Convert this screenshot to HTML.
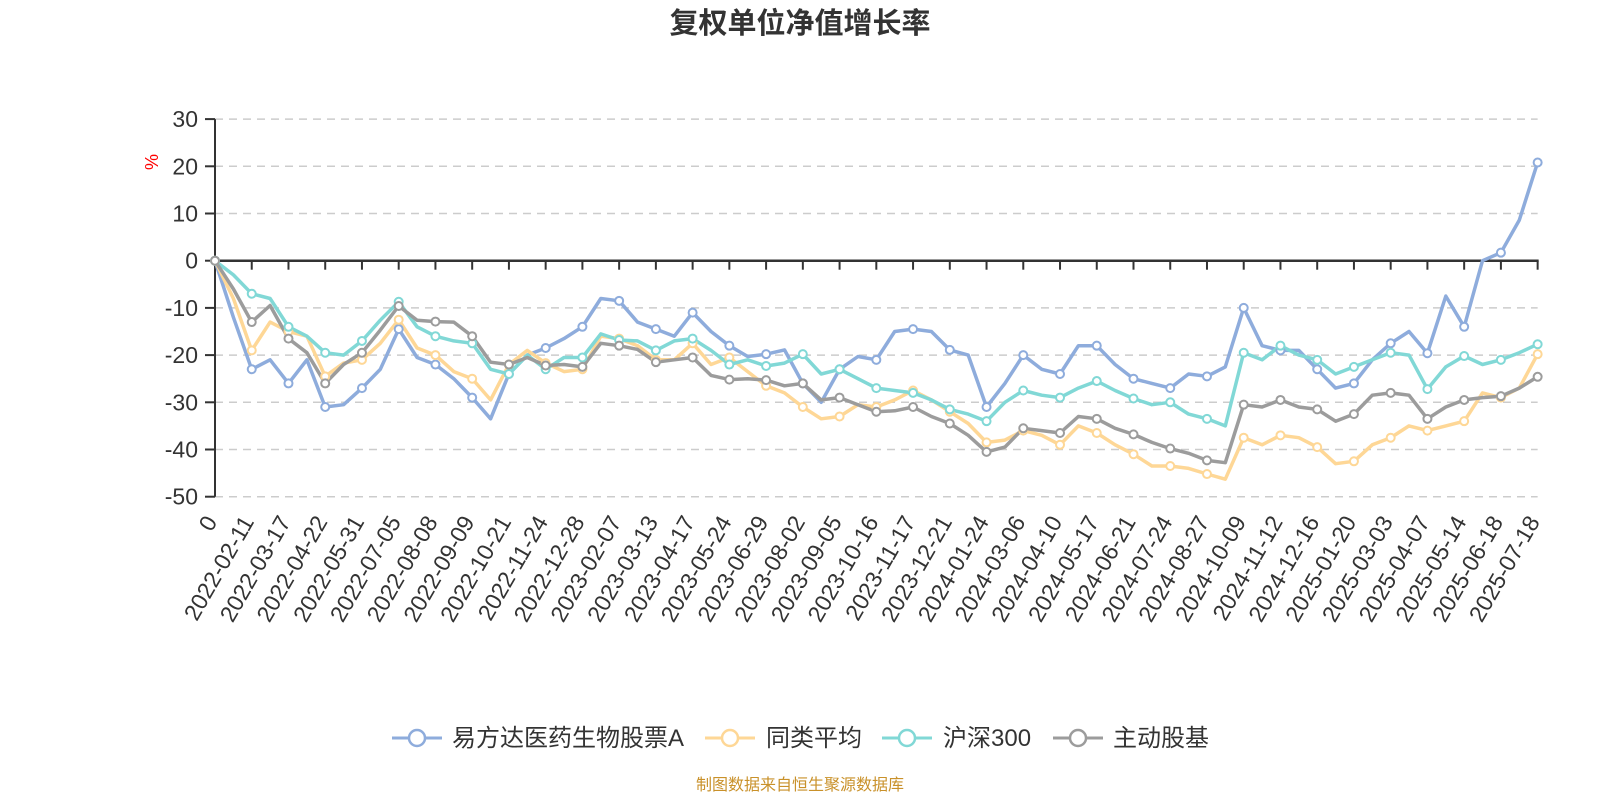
<!DOCTYPE html>
<html><head><meta charset="utf-8"><style>
html,body{margin:0;padding:0;background:#fff;}
svg{display:block;font-family:"Liberation Sans","Noto Sans CJK SC",sans-serif;}
</style></head><body>
<svg id="chart" width="1600" height="800" viewBox="0 0 1600 800">
<text x="800" y="33" text-anchor="middle" font-size="29" font-weight="bold" fill="#333">复权单位净值增长率</text>
<text transform="translate(158,162) rotate(-90)" text-anchor="middle" font-size="18" fill="#f00">%</text>
<g id="grid"></g>
<g id="axes"></g>
<g id="series"></g>
<g>
  <g>
    <line x1="392" y1="738" x2="442" y2="738" stroke="#8eacdc" stroke-width="3"/>
    <circle cx="417" cy="738" r="8" fill="#fff" stroke="#8eacdc" stroke-width="2.5"/>
    <text x="452" y="746" font-size="24" fill="#333">易方达医药生物股票A</text>
  </g>
  <g>
    <line x1="705" y1="738" x2="755" y2="738" stroke="#fed796" stroke-width="3"/>
    <circle cx="730" cy="738" r="8" fill="#fff" stroke="#fed796" stroke-width="2.5"/>
    <text x="766" y="746" font-size="24" fill="#333">同类平均</text>
  </g>
  <g>
    <line x1="882" y1="738" x2="932" y2="738" stroke="#81d8d6" stroke-width="3"/>
    <circle cx="907" cy="738" r="8" fill="#fff" stroke="#81d8d6" stroke-width="2.5"/>
    <text x="943" y="746" font-size="24" fill="#333">沪深300</text>
  </g>
  <g>
    <line x1="1053" y1="738" x2="1103" y2="738" stroke="#9c9c9c" stroke-width="3"/>
    <circle cx="1078" cy="738" r="8" fill="#fff" stroke="#9c9c9c" stroke-width="2.5"/>
    <text x="1113" y="746" font-size="24" fill="#333">主动股基</text>
  </g>
</g>
<text x="800" y="790" text-anchor="middle" font-size="16" fill="#c9912a">制图数据来自恒生聚源数据库</text>
</svg>
<script>
const tickLabels = ["0","2022-02-11","2022-03-17","2022-04-22","2022-05-31","2022-07-05","2022-08-08","2022-09-09","2022-10-21","2022-11-24","2022-12-28","2023-02-07","2023-03-13","2023-04-17","2023-05-24","2023-06-29","2023-08-02","2023-09-05","2023-10-16","2023-11-17","2023-12-21","2024-01-24","2024-03-06","2024-04-10","2024-05-17","2024-06-21","2024-07-24","2024-08-27","2024-10-09","2024-11-12","2024-12-16","2025-01-20","2025-03-03","2025-04-07","2025-05-14","2025-06-18","2025-07-18"];
const yTicks = [30,20,10,0,-10,-20,-30,-40,-50];
const fundValues = [0,-12,-23,-21,-26,-21,-31,-30.5,-27,-23,-14.5,-20.5,-22,-25,-29,-33.5,-24,-20,-18.5,-16.5,-14,-8,-8.5,-13,-14.5,-16,-11,-15,-18,-20.3,-19.8,-18.9,-26,-30,-23,-20.3,-21,-15,-14.5,-15,-18.9,-20,-31,-26,-20,-23,-24,-18,-18,-22,-25,-26,-27,-24,-24.5,-22.5,-10,-18,-19,-19,-23,-27,-26,-21,-17.5,-15,-19.6,-7.5,-14,0,1.7,8.6,20.8];
const peerValues = [0,-8,-19,-13,-15,-16,-24.5,-21.7,-21,-17.5,-12.5,-18.5,-20,-23.5,-25,-29.5,-22,-19,-21.7,-23.5,-23,-16,-16.5,-18,-21,-21,-17.5,-22,-20.5,-23.5,-26.5,-28,-31,-33.5,-33,-30.5,-31,-29.5,-27.5,-29.5,-32,-34.5,-38.5,-38,-36,-37,-39,-35,-36.5,-39,-41,-43.5,-43.5,-44,-45.2,-46.3,-37.5,-39,-37,-37.5,-39.5,-43,-42.5,-39,-37.5,-35,-36,-35,-34,-28,-29,-27,-19.8];
const csiValues = [0,-3,-7,-8,-14,-16,-19.5,-20,-17,-12.6,-8.7,-14,-16,-17,-17.5,-23,-24,-20,-23,-20.5,-20.5,-15.5,-16.8,-17,-19,-17,-16.5,-19,-22,-21,-22.3,-21.7,-19.8,-24,-23,-25,-27,-27.5,-28,-29.5,-31.5,-32.5,-34,-30,-27.5,-28.5,-29,-27,-25.5,-27.5,-29.2,-30.5,-30,-32.5,-33.5,-35,-19.5,-21,-18,-20,-21,-24,-22.5,-21,-19.5,-20,-27.2,-22.5,-20.2,-22,-21,-19.5,-17.7];
const activeValues = [0,-6,-13,-9.5,-16.5,-19.5,-26,-22,-19.5,-14.7,-9.6,-12.6,-12.9,-13,-16,-21.5,-22,-20.5,-22.2,-22,-22.5,-17.5,-18,-18.8,-21.5,-21,-20.5,-24.3,-25.2,-25,-25.3,-26.5,-26,-29.5,-29,-30.5,-32,-31.8,-31,-33,-34.5,-37,-40.5,-39.5,-35.5,-36,-36.5,-33,-33.5,-35.5,-36.8,-38.5,-39.8,-40.8,-42.3,-42.8,-30.5,-31,-29.5,-31,-31.5,-34,-32.5,-28.5,-28,-28.5,-33.5,-31,-29.5,-29,-28.7,-27,-24.6];

const NS = "http://www.w3.org/2000/svg";
const X0 = 215, TICKW = 36.74, Y0 = 260.7, YS = 4.72;
const xTick = t => X0 + t * TICKW;
const xIdx = i => X0 + (i / 2) * TICKW;
const yVal = v => Y0 - v * YS;
function mk(tag, attrs, parent) {
  const e = document.createElementNS(NS, tag);
  for (const k in attrs) e.setAttribute(k, attrs[k]);
  parent.appendChild(e);
  return e;
}
const grid = document.getElementById('grid');
const axes = document.getElementById('axes');
const series = document.getElementById('series');
const xEnd = xTick(tickLabels.length - 1);

yTicks.forEach(v => {
  if (v !== 0) {
    const gl = mk('line', {x1: X0, x2: xEnd, y1: yVal(v), y2: yVal(v), stroke: '#cccccc', 'stroke-width': 1.5, 'stroke-dasharray': '8,6'}, grid);
    
    
  }
  const tk = mk('line', {x1: X0 - 10, x2: X0, y1: yVal(v), y2: yVal(v), stroke: '#333', 'stroke-width': 2}, axes);
  
  
  const lb = mk('text', {x: X0 - 17, y: yVal(v) + 8, 'text-anchor': 'end', 'font-size': 23, fill: '#333'}, axes);
  lb.textContent = String(v);
  
  
});
const ya = mk('line', {x1: X0, x2: X0, y1: yVal(30), y2: yVal(-50), stroke: '#333', 'stroke-width': 2}, axes);


const xa = mk('line', {x1: X0, x2: xEnd + 1, y1: Y0, y2: Y0, stroke: '#333', 'stroke-width': 2.5}, axes);


const bottomY = yVal(-50);
tickLabels.forEach((lab, t) => {
  const x = xTick(t);
  const tk = mk('line', {x1: x, x2: x, y1: Y0, y2: Y0 + 9, stroke: '#333', 'stroke-width': 2}, axes);
  
  
  const tx = mk('text', {transform: 'translate(' + (x - 4) + ',' + (bottomY + 21) + ') rotate(-60)', 'text-anchor': 'end', 'font-size': 23, fill: '#333', dy: '8'}, axes);
  tx.textContent = lab;
  
  
});

const seriesDefs = [
  {vals: fundValues, color: '#8eacdc', name: 'fund-line'},
  {vals: peerValues, color: '#fed796', name: 'peer-average-line'},
  {vals: csiValues, color: '#81d8d6', name: 'csi300-line'},
  {vals: activeValues, color: '#9c9c9c', name: 'active-equity-line'}
];
seriesDefs.forEach(s => {
  const d = s.vals.map((v, i) => (i ? 'L' : 'M') + xIdx(i).toFixed(1) + ',' + yVal(v).toFixed(1)).join(' ');
  const p = mk('path', {d: d, fill: 'none', stroke: s.color, 'stroke-width': 3.5, 'stroke-linejoin': 'round'}, series);
  
  
});
seriesDefs.forEach(s => {
  s.vals.forEach((v, i) => {
    if (i % 2 !== 0) return;
    const c = mk('circle', {cx: xIdx(i), cy: yVal(v), r: 4, fill: '#fff', stroke: s.color, 'stroke-width': 2}, series);
    
    
  });
});
</script>
</body></html>
